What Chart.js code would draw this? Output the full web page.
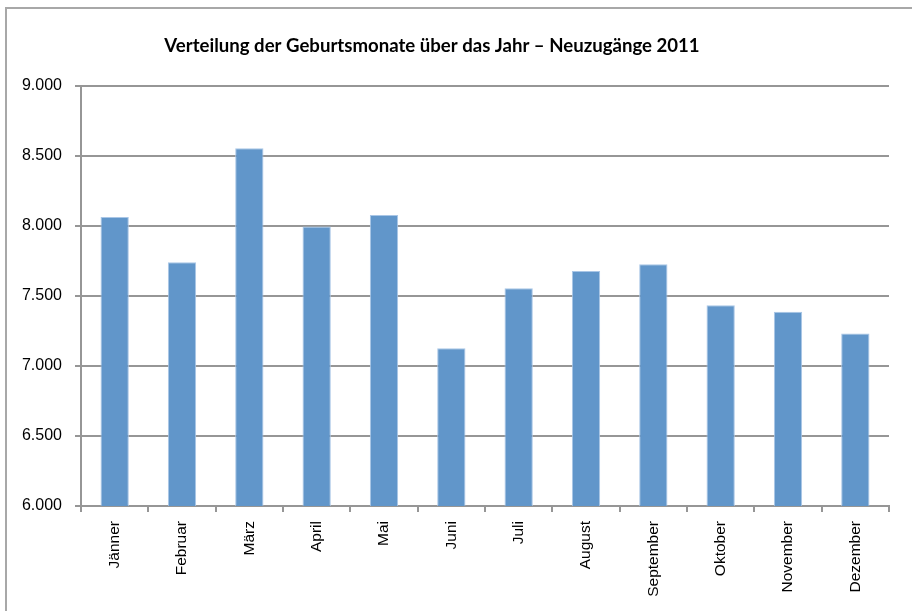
<!DOCTYPE html>
<html>
<head>
<meta charset="utf-8">
<script src="https://cdn.jsdelivr.net/npm/chart.js@4.4.1/dist/chart.umd.min.js"></script>
<style>
  html, body { margin: 0; padding: 0; background: #fff; overflow: hidden; }
  #frame { position: absolute; left: 5px; top: 7px; width: 1000px; height: 1000px;
           border-top: 2px solid #a8a8a8; border-left: 2px solid #a8a8a8; }
  #wrap { position: absolute; left: 0; top: 0; width: 912px; height: 611px; }
</style>
</head>
<body>
<div id="frame"></div>
<div id="wrap"><canvas id="c" width="912" height="611"></canvas></div>
<script>
const chartTitle = "Verteilung der Geburtsmonate über das Jahr – Neuzugänge 2011";
const months = ["Jänner", "Februar", "März", "April", "Mai", "Juni", "Juli", "August", "September", "Oktober", "November", "Dezember"];
const births = [8064, 7741, 8555, 7997, 8079, 7126, 7555, 7679, 7726, 7434, 7388, 7233];
const yMin = 6000, yMax = 9000, yStep = 500;

function fmt(v) {
  return String(Math.round(v)).replace(/\B(?=(\d{3})+(?!\d))/g, ".");
}

const titlePlugin = {
  id: 'fixedTitle',
  afterDraw(chart) {
    const ctx = chart.ctx;
    ctx.save();
    ctx.font = "bold 18.6px Lato";
    ctx.fillStyle = "#000";
    ctx.textAlign = "center";
    ctx.textBaseline = "middle";
    ctx.fillText(chartTitle, 432, 46);
    ctx.restore();
  }
};

const gridColor = "#969696";

new Chart(document.getElementById('c'), {
  type: 'bar',
  data: {
    labels: months,
    datasets: [{
      data: births,
      backgroundColor: "#6196ca",
      borderColor: "#a9c6e6",
      borderWidth: 1,
      barPercentage: 0.42,
      categoryPercentage: 1.0
    }]
  },
  options: {
    responsive: false,
    animation: false,
    devicePixelRatio: 1,
    layout: { padding: { left: 10, right: 23, top: 86, bottom: 0 } },
    plugins: { legend: { display: false }, title: { display: false }, tooltip: { enabled: false } },
    scales: {
      y: {
        min: yMin, max: yMax,
        ticks: {
          stepSize: yStep,
          callback: (v) => fmt(v),
          color: "#000",
          font: { family: "Liberation Sans", size: 16 },
          padding: 13
        },
        grid: { color: gridColor, lineWidth: 2, tickLength: 6 },
        border: { color: gridColor, width: 2 },
        afterFit(scale) { scale.width = 71; }
      },
      x: {
        ticks: {
          minRotation: 90, maxRotation: 90,
          color: "#000",
          font: { family: "Liberation Sans", size: 15.5 },
          padding: 9,
          autoSkip: false
        },
        grid: { color: gridColor, lineWidth: 2, tickLength: 6, drawOnChartArea: false, offset: true },
        border: { color: gridColor, width: 2 },
        afterFit(scale) { scale.height = 105; }
      }
    }
  },
  plugins: [titlePlugin]
});
</script>
</body>
</html>
